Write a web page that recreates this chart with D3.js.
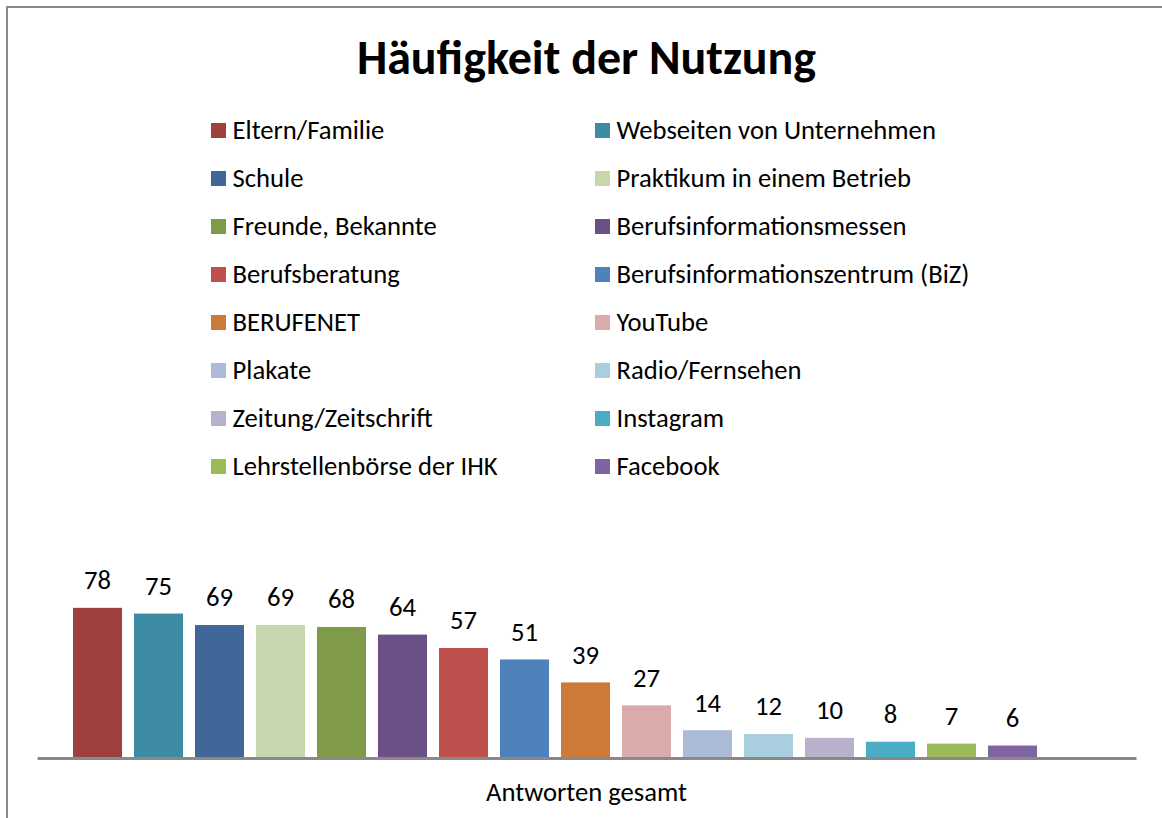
<!DOCTYPE html>
<html>
<head>
<meta charset="utf-8">
<script src="https://cdn.jsdelivr.net/npm/d3@7"></script>
<style>
  html, body { margin: 0; padding: 0; background: #fff; }
  svg { display: block; }
  text { font-family: Carlito, Calibri, Lato, sans-serif; fill: #000; }
</style>
</head>
<body>
<svg id="chart" width="1162" height="818"></svg>
<script>
const title = "Häufigkeit der Nutzung";
const categoryLabel = "Antworten gesamt";
const series = [
  "Eltern/Familie", "Webseiten von Unternehmen", "Schule", "Praktikum in einem Betrieb",
  "Freunde, Bekannte", "Berufsinformationsmessen", "Berufsberatung", "Berufsinformationszentrum (BiZ)",
  "BERUFENET", "YouTube", "Plakate", "Radio/Fernsehen",
  "Zeitung/Zeitschrift", "Instagram", "Lehrstellenbörse der IHK", "Facebook"
];
const values = [78, 75, 69, 69, 68, 64, 57, 51, 39, 27, 14, 12, 10, 8, 7, 6];
const colors = [
  "#9E413E", "#3D8CA3", "#3F6898", "#C7D6AC",
  "#7F9A48", "#6A5087", "#C0504D", "#4F81BD",
  "#CC7A37", "#DBAAAA", "#AABAD7", "#A9CFDE",
  "#B9B0CB", "#4BACC6", "#9BBB59", "#8064A2"
];

const svg = d3.select("#chart");
const fs = 26.67;

// outer frame
svg.append("rect")
  .attr("x", 7).attr("y", 7)
  .attr("width", 1170).attr("height", 830)
  .attr("fill", "none").attr("stroke", "#898989").attr("stroke-width", 2);

// title
svg.append("text")
  .attr("x", 586.5).attr("y", 73.5)
  .attr("text-anchor", "middle")
  .attr("font-size", 48).attr("font-weight", "bold")
  .text(title);

// legend
const legendCols = [211, 595];
const legendY0 = 130.5, legendStep = 48;
const legend = svg.append("g");
series.forEach((s, i) => {
  const col = i % 2, row = Math.floor(i / 2);
  const g = legend.append("g")
    .attr("transform", `translate(${legendCols[col]},${legendY0 + row * legendStep})`);
  g.append("rect").attr("x", 0).attr("y", -7.5).attr("width", 15).attr("height", 15)
    .attr("fill", colors[i]);
  g.append("text").attr("x", 21.5).attr("y", 8)
    .attr("font-size", fs).text(s);
});

// scales
const x = d3.scaleBand().domain(series).range([67, 1043]).paddingInner(12 / 61).paddingOuter(6 / 61);
const y = d3.scaleLinear().domain([0, 80]).range([757, 604]);
const color = d3.scaleOrdinal().domain(series).range(colors);

// bars
svg.append("g").selectAll("rect")
  .data(series.map((s, i) => ({ s, v: values[i] })))
  .join("rect")
  .attr("x", d => x(d.s))
  .attr("y", d => y(d.v))
  .attr("width", x.bandwidth())
  .attr("height", d => y(0) - y(d.v))
  .attr("fill", d => color(d.s));

// data labels
svg.append("g").selectAll("text")
  .data(series.map((s, i) => ({ s, v: values[i] })))
  .join("text")
  .attr("x", d => x(d.s) + x.bandwidth() / 2)
  .attr("y", d => y(d.v) - 18.7)
  .attr("text-anchor", "middle")
  .attr("font-size", fs)
  .text(d => d.v);

// category axis line
const xAxisScale = d3.scaleBand().domain([categoryLabel]).range([37, 1136]);
const axisG = svg.append("g").attr("transform", "translate(0,758)")
  .call(d3.axisBottom(xAxisScale).tickSize(0).tickPadding(0));
axisG.select(".domain").attr("stroke", "#898989").attr("stroke-width", 3);
axisG.selectAll(".tick text").remove();
svg.append("text")
  .attr("x", xAxisScale(categoryLabel) + xAxisScale.bandwidth() / 2)
  .attr("y", 800.5)
  .attr("text-anchor", "middle")
  .attr("font-size", fs)
  .text(categoryLabel);
</script>
</body>
</html>
